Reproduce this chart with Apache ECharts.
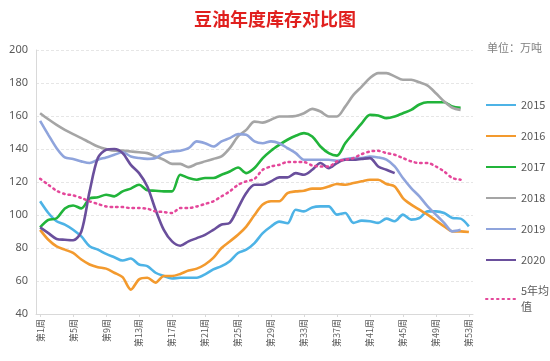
<!DOCTYPE html>
<html><head><meta charset="utf-8">
<script src="https://cdn.jsdelivr.net/npm/echarts@6/dist/echarts.min.js"></script>
<style>html,body{margin:0;padding:0;background:#fff}#c{width:550px;height:361px}</style>
</head><body><div id="c"></div>
<script>
var weeks = [];
for (var i = 1; i <= 53; i++) weeks.push('第' + i + '周');
var titleText = '豆油年度库存对比图';
var unitText = '单位：万吨';
var yTicks = {min: 40, max: 200, interval: 20};

var s2015 = [108.3,101.2,96.2,94.2,91.1,87,81,79,76.4,74.4,72.4,73.6,70,69,65,63,61.5,62,62,62,64,67,69,72,77,79,83,89,93,96,95,103.2,102.2,104.6,105.2,105.2,100.2,101.2,95.2,96.6,96.2,95.2,97.8,96.2,100.2,97.2,98.2,102.2,102.2,101.2,98.2,97.8,93.1];
var s2016 = [91,85,81,79,77,73,70,68.4,67.5,65,62.3,54.8,61,62,59,63,63,64.3,66.3,67.5,70,74,80,84,88,93,100,106.3,108.3,108.3,113.3,114.3,114.7,116,116,117.3,118.8,118.3,119.4,120.4,121.4,121.4,118.8,117.3,110.3,106.3,103.2,100.2,96.6,93.1,90.1,90.1,89.7];
var s2017 = [92.5,97,98,104,105.8,104,110,110.7,112.3,111.3,114.3,116,118.3,115,114.7,114.3,114.3,124.4,122.4,121.4,122.4,122.4,124.4,126.4,128.8,125.4,128.5,134.5,139,142.5,145.6,148,149.6,147.6,141.5,137.5,136,143.5,149.6,155.6,160.7,160.3,158.7,159.7,161.7,163.7,167,168.3,168.3,168.3,165.7,165,null];
var s2018 = [161.7,158,154.6,151.6,149,146.6,144,141.5,140,139,139,138.5,138,137.5,135.5,133.5,131,131,129,131,132.5,134,135.5,140.5,147.6,151.6,156.6,156,157.7,159.7,159.7,160,161.7,164.3,162.7,159.7,159.7,165.7,172.8,177.8,183,186,186,184,182,182,180.4,178.4,173.8,168.8,165,163.7,null];
var s2019 = [157,148.6,140.5,134.9,134,132.5,131.5,133.5,134.9,136.5,138,135.5,134.5,134,134.5,137.5,138.5,139,140.5,144.6,143.5,141.5,144.6,146.6,149,148.6,144.6,143.5,144.6,143.5,140.5,137.5,133.5,133.5,133.5,133.5,132.9,133.9,134.5,134.5,135.5,134.9,133.5,129.4,122.4,116.3,111.3,105.2,100.2,95.2,90.1,91,null];
var s2020 = [92.5,89,85.5,85,84.7,90,114.3,134.5,139.5,140,137.5,130.4,125.4,117.3,103.2,91,84,81.4,84,86,88,91,94.2,95.2,104.2,113.3,118.3,118.3,120.4,122.8,122.8,125.4,124.4,127.4,131.5,128.4,131.5,133.5,133.5,134,134.5,129.4,127.4,125.4,null,null,null,null,null,null,null,null,null];
var sAvg = [122,118.3,114.7,112.7,111.9,110.3,108.3,106.7,105.2,104.8,104.8,104.2,104.2,103.8,102.2,101.8,101.2,104.2,104.2,105.2,106.7,108.3,111.3,114.3,118.3,120.4,121.9,127.4,129.4,130.4,132.1,132.1,132.1,130,129.4,129.4,132.5,133.5,134.5,136.9,138.5,138.9,137.5,136.5,134.5,132.5,131.5,131.5,129.4,126.4,122.4,121.4,null];

var names = ['2015','2016','2017','2018','2019','2020','5年均值'];
var colors = ['#4db3e6','#f39a2e','#21b43a','#a5a5a5','#8fa4dc','#6a4f9c','#e4479a'];
var datas = [s2015,s2016,s2017,s2018,s2019,s2020,sAvg];

var series = names.map(function(n, i){
  return {
    name: n, type: 'line', data: datas[i], symbol: 'none', smooth: 0.3,
    connectNulls: false,
    lineStyle: i === 6 ? {color: colors[i], width: 2.5, type: [1.5, 4], cap: 'round'} : {color: colors[i], width: 2.6},
    itemStyle: {color: colors[i]}
  };
});

var chart = echarts.init(document.getElementById('c'));
chart.setOption({
  animation: false,
  backgroundColor: '#fff',
  title: [
    {text: titleText, left: 'center', top: 5, textStyle: {color: '#e0201e', fontSize: 18, fontWeight: 'bold', fontFamily: 'Noto Sans CJK SC'}},
    {text: unitText, left: 482, top: 37, textStyle: {color: '#7f7f7f', fontSize: 11, fontWeight: 'normal', fontFamily: 'Noto Sans CJK SC'}}
  ],
  legend: {
    orient: 'vertical', left: 485, top: 97, padding: 0, itemWidth: 30, itemHeight: 10, itemGap: 15,
    data: names,
    itemStyle: {opacity: 0},
    formatter: function(n){ return n === '5年均值' ? '5年均\n值' : n; },
    textStyle: {color: '#595959', fontSize: 11, fontFamily: 'Noto Sans CJK SC', lineHeight: 16}
  },
  grid: {left: 36, right: 77, top: 50, bottom: 47, containLabel: false},
  xAxis: {
    type: 'category', data: weeks, boundaryGap: true,
    axisLine: {lineStyle: {color: '#d9d9d9'}},
    axisTick: {show: true, interval: 3, alignWithLabel: true, length: 3, lineStyle: {color: '#d9d9d9'}},
    axisLabel: {interval: 3, rotate: 90, color: '#595959', fontSize: 9, fontFamily: 'Noto Sans CJK SC', margin: 5}
  },
  yAxis: {
    type: 'value', min: yTicks.min, max: yTicks.max, interval: yTicks.interval,
    axisLine: {show: true, lineStyle: {color: '#d9d9d9'}},
    axisTick: {show: false},
    axisLabel: {color: '#595959', fontSize: 11, fontFamily: 'Noto Sans', margin: 8},
    splitLine: {lineStyle: {color: '#e6e6e6', type: [3, 2]}}
  },
  series: series
});
</script></body></html>
